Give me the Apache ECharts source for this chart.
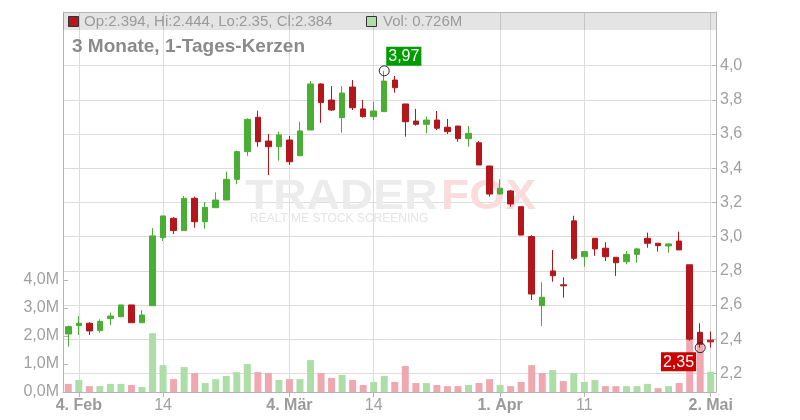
<!DOCTYPE html>
<html><head><meta charset="utf-8">
<script src="https://cdn.jsdelivr.net/npm/echarts@6/dist/echarts.min.js"></script>
<style>html,body{margin:0;padding:0;background:#fff}#c{width:800px;height:420px}</style>
</head><body><div id="c"></div>
<script>
const dates = ['2019-02-01','2019-02-04','2019-02-05','2019-02-06','2019-02-07','2019-02-08','2019-02-11','2019-02-12','2019-02-13','2019-02-14','2019-02-15','2019-02-18','2019-02-19','2019-02-20','2019-02-21','2019-02-22','2019-02-25','2019-02-26','2019-02-27','2019-02-28',
'2019-03-01','2019-03-04','2019-03-05','2019-03-06','2019-03-07','2019-03-08','2019-03-11','2019-03-12','2019-03-13','2019-03-14','2019-03-15','2019-03-18','2019-03-19','2019-03-20','2019-03-21','2019-03-22','2019-03-25','2019-03-26','2019-03-27','2019-03-28','2019-03-29',
'2019-04-01','2019-04-02','2019-04-03','2019-04-04','2019-04-05','2019-04-08','2019-04-09','2019-04-10','2019-04-11','2019-04-12','2019-04-15','2019-04-16','2019-04-17','2019-04-18','2019-04-23','2019-04-24','2019-04-25','2019-04-26','2019-04-29','2019-04-30',
'2019-05-02'];
const opens = [2.430,2.479,2.493,2.450,2.520,2.531,2.600,2.496,2.596,2.994,
 3.107,3.035,3.224,3.087,3.169,3.214,3.335,3.497,3.698,3.559,
 3.526,3.565,3.473,3.624,3.893,3.799,3.696,3.875,3.747,3.702,
 3.731,3.916,3.776,3.676,3.657,3.682,3.640,3.647,3.573,3.549,
 3.413,3.249,3.267,3.175,3.000,2.596,2.799,2.718,3.092,2.882,
 2.990,2.932,2.879,2.853,2.896,2.990,2.961,2.945,2.974,2.835,
 2.440,2.394];
const highs = [2.479,2.535,2.499,2.516,2.555,2.600,2.600,2.570,3.049,3.121,
 3.115,3.238,3.234,3.201,3.259,3.380,3.503,3.692,3.737,3.600,
 3.614,3.589,3.672,3.910,3.897,3.881,3.881,3.916,3.799,3.789,
 3.970,3.940,3.776,3.747,3.702,3.735,3.688,3.647,3.647,3.559,
 3.413,3.335,3.273,3.175,3.009,2.733,2.922,2.762,3.122,2.912,
 2.990,2.967,2.879,2.916,2.935,3.023,2.961,2.961,3.029,2.835,
 2.493,2.444];
const lows = [2.356,2.424,2.424,2.438,2.483,2.531,2.496,2.496,2.596,2.974,
 3.015,3.035,3.052,3.046,3.169,3.214,3.306,3.473,3.526,3.360,
 3.444,3.419,3.473,3.624,3.666,3.735,3.608,3.741,3.696,3.682,
 3.731,3.842,3.585,3.649,3.604,3.624,3.600,3.555,3.526,3.419,
 3.234,3.249,3.175,3.009,2.629,2.477,2.736,2.643,2.863,2.824,
 2.888,2.857,2.770,2.838,2.847,2.935,2.912,2.906,2.922,2.390,
 2.350,2.350];
const closes = [2.473,2.493,2.448,2.504,2.535,2.600,2.496,2.541,3.004,3.121,
 3.035,3.224,3.087,3.171,3.214,3.335,3.497,3.686,3.555,3.526,
 3.595,3.438,3.618,3.893,3.784,3.741,3.840,3.754,3.702,3.735,
 3.910,3.871,3.672,3.657,3.682,3.634,3.614,3.573,3.604,3.419,
 3.249,3.283,3.191,3.009,2.664,2.645,2.771,2.712,2.873,2.912,
 2.928,2.882,2.847,2.896,2.928,2.961,2.947,2.957,2.922,2.400,
 2.370,2.384];
const volumes = [0.29,0.43,0.21,0.21,0.29,0.29,0.25,0.18,2.10,0.96,
 0.46,0.89,0.68,0.32,0.46,0.57,0.71,1.00,0.71,0.68,
 0.43,0.46,0.46,1.14,0.68,0.50,0.61,0.43,0.25,0.36,
 0.57,0.36,0.93,0.32,0.32,0.25,0.21,0.21,0.25,0.32,
 0.46,0.25,0.21,0.36,0.96,0.68,0.78,0.39,0.68,0.36,
 0.43,0.21,0.21,0.21,0.21,0.29,0.14,0.21,0.32,2.00,
 1.74,0.726];
const prevClose = 2.50;
const tickDates = ['2019-02-04','2019-02-14','2019-03-04','2019-03-14','2019-04-01','2019-04-11','2019-05-02'];
const tickLabels = ['4. Feb','14','4. Mär','14','1. Apr','11','2. Mai'];
const priceTicks = [2.2,2.4,2.6,2.8,3.0,3.2,3.4,3.6,3.8,4.0];
const volTicks = [0,1,2,3,4];
const titleText = '3 Monate, 1-Tages-Kerzen';

const UP = '#4bae34', DOWN = '#b3161b', VUP = '#addea8', VDOWN = '#f0a8b0';
const FONT = '"Liberation Sans", Arial, sans-serif';
const n = dates.length - 1;
const candleData = dates.map((d, i) => [opens[i], closes[i], lows[i], highs[i]]);
const volData = volumes.map((v, i) => ({
  value: v,
  itemStyle: { color: closes[i] >= (i ? closes[i - 1] : prevClose) ? VUP : VDOWN }
}));
const hiIdx = highs.indexOf(Math.max(...highs));
const loIdx = lows.indexOf(Math.min(...lows));
const isTick = (i) => tickDates.indexOf(dates[i]) >= 0;
const comma = (v, d) => v.toFixed(d).replace('.', ',');

const chart = echarts.init(document.getElementById('c'), null, { renderer: 'canvas' });
chart.setOption({
  animation: false,
  textStyle: { fontFamily: FONT },
  grid: { left: 63, right: 84, top: 12, bottom: 28 },
  xAxis: {
    type: 'category', data: dates, boundaryGap: true,
    axisLine: { lineStyle: { color: '#b4b4b4' } },
    axisTick: { show: true, alignWithLabel: true, interval: (i) => isTick(i), length: 5, lineStyle: { color: '#b4b4b4' } },
    splitLine: { show: true, alignWithLabel: true, interval: (i) => isTick(i), lineStyle: { color: '#dcdcdc' } },
    axisLabel: {
      interval: (i) => isTick(i), margin: 6,
      formatter: (v) => { const t = tickLabels[tickDates.indexOf(v)] || ''; return /\D/.test(t) ? '{b|' + t + '}' : '{n|' + t + '}'; },
      rich: {
        b: { fontWeight: 'bold', fontSize: 16, color: '#9a9a9a', fontFamily: FONT },
        n: { fontSize: 16, color: '#a0a0a0', fontFamily: FONT }
      }
    }
  },
  yAxis: [
    {
      type: 'value', position: 'right', min: 2.0906, max: 4.3142, scale: true,
      axisLine: { show: true, lineStyle: { color: '#b4b4b4' } },
      axisTick: { show: true, inside: true, length: 4, customValues: priceTicks, lineStyle: { color: '#b4b4b4' } },
      axisLabel: { customValues: priceTicks, formatter: (v) => comma(v, 1), color: '#a0a0a0', fontSize: 16, margin: 4, fontFamily: FONT },
      splitLine: { show: true, lineStyle: { color: '#dcdcdc' } }
    },
    {
      type: 'value', position: 'left', min: 0, max: 13.571,
      axisLine: { show: true, lineStyle: { color: '#b4b4b4' } },
      axisTick: { show: true, inside: true, length: 5, customValues: volTicks, lineStyle: { color: '#b4b4b4' } },
      axisLabel: { customValues: volTicks, formatter: (v) => comma(v, 1) + 'M', color: '#a0a0a0', fontSize: 16, margin: 4, fontFamily: FONT },
      splitLine: { show: false }
    }
  ],
  series: [
    {
      type: 'candlestick', data: candleData, yAxisIndex: 0, barWidth: 6,
      itemStyle: { color: UP, color0: DOWN, borderColor: UP, borderColor0: DOWN, borderWidth: 1 },
      markPoint: {
        symbol: 'circle', symbolSize: 10, silent: true,
        itemStyle: { color: 'rgba(0,0,0,0)', borderColor: '#222', borderWidth: 1 },
        data: [
          { coord: [dates[hiIdx], highs[hiIdx]], value: highs[hiIdx],
            label: { show: true, position: [7.5, 0.5], align: 'left', verticalAlign: 'bottom', formatter: (p) => comma(p.value, 2),
              color: '#fff', fontSize: 16, lineHeight: 16, padding: [2, 2, 1, 2], backgroundColor: '#009c00', fontFamily: FONT } },
          { coord: [dates[loIdx], lows[loIdx]], value: lows[loIdx],
            label: { show: true, position: [1.4, 10], align: 'right', verticalAlign: 'top', formatter: (p) => comma(p.value, 2),
              color: '#fff', fontSize: 16, lineHeight: 16, padding: [2, 2, 1, 2], backgroundColor: '#cc0000', fontFamily: FONT } }
        ]
      }
    },
    { type: 'bar', data: volData, yAxisIndex: 1, barWidth: 7 }
  ],
  graphic: [
    { type: 'text', z: 1, silent: true, x: 245, y: 176, scaleX: 1.1, style: { text: 'TRADER', font: 'bold 42px ' + FONT, fill: '#ececec', textVerticalAlign: 'top' } },
    { type: 'text', z: 1, silent: true, x: 441, y: 176, scaleX: 1.1, style: { text: 'FOX', font: 'bold 42px ' + FONT, fill: '#fbdcdc', textVerticalAlign: 'top' } },
    { type: 'text', z: 1, silent: true, x: 250, y: 213, style: { text: 'REALTIME STOCK SCREENING', font: '12px ' + FONT, fill: '#e4e4e4', textVerticalAlign: 'top' } },
    { type: 'rect', z: 10, silent: true, shape: { x: 63, y: 12, width: 653, height: 18 }, style: { fill: 'rgba(0,0,0,0.105)' } },
    { type: 'line', z: 11, silent: true, shape: { x1: 63, y1: 12.5, x2: 716, y2: 12.5 }, style: { stroke: '#b8b8b8', lineWidth: 1 } },
    { type: 'rect', z: 11, silent: true, shape: { x: 68.5, y: 16.5, width: 10, height: 10 }, style: { fill: DOWN, stroke: '#333', lineWidth: 1 } },
    { type: 'text', z: 11, silent: true, x: 84, y: 21.7, style: { text: 'Op:' + opens[n] + ', Hi:' + highs[n] + ', Lo:' + lows[n] + ', Cl:' + closes[n], font: '15px ' + FONT, fill: '#9a9a9a', textVerticalAlign: 'middle' } },
    { type: 'rect', z: 11, silent: true, shape: { x: 366.5, y: 16.5, width: 10, height: 10 }, style: { fill: VUP, stroke: '#333', lineWidth: 1 } },
    { type: 'text', z: 11, silent: true, x: 383, y: 21.7, style: { text: 'Vol: ' + volumes[n] + 'M', font: '15px ' + FONT, fill: '#9a9a9a', textVerticalAlign: 'middle' } },
    { type: 'text', z: 11, silent: true, x: 72, y: 47, style: { text: titleText, font: 'bold 19px ' + FONT, fill: '#8a8a8a', textVerticalAlign: 'middle' } }
  ]
});
</script>
</body></html>
